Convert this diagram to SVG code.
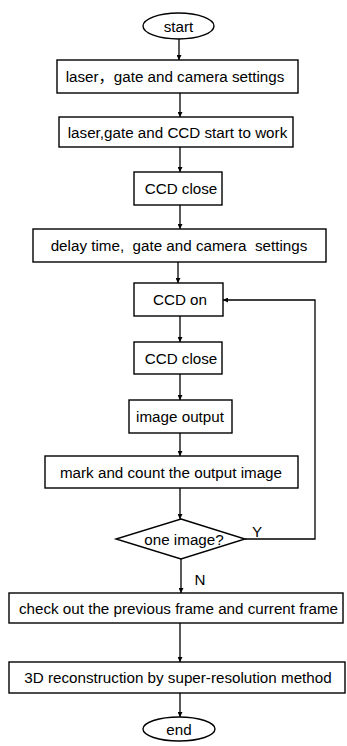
<svg xmlns="http://www.w3.org/2000/svg" width="347" height="746" viewBox="0 0 347 746">
<style>
.n{fill:#fff;stroke:#000;stroke-width:1.4}
.t{font-family:"Liberation Sans",Arial,"Noto Sans CJK SC",sans-serif;font-size:15.2px;fill:#000;text-anchor:middle;white-space:pre}
.c{fill:none;stroke:#000;stroke-width:1.3}
</style>
<defs>
<marker id="ah" viewBox="0 0 10 10" refX="10" refY="5" markerWidth="5" markerHeight="5" markerUnits="userSpaceOnUse" orient="auto">
<path d="M0,0 L10,5 L0,10 z" fill="#000"/>
</marker>
</defs>
<rect width="347" height="746" fill="#fff"/>
<g id="connectors">
<line class="c" x1="179" y1="39" x2="179" y2="60" marker-end="url(#ah)"/>
<line class="c" x1="180" y1="93" x2="180" y2="117" marker-end="url(#ah)"/>
<line class="c" x1="180" y1="147" x2="180" y2="172" marker-end="url(#ah)"/>
<line class="c" x1="180" y1="205" x2="180" y2="229" marker-end="url(#ah)"/>
<line class="c" x1="178" y1="262" x2="178" y2="283" marker-end="url(#ah)"/>
<line class="c" x1="180" y1="316" x2="180" y2="342" marker-end="url(#ah)"/>
<line class="c" x1="180" y1="374" x2="180" y2="400" marker-end="url(#ah)"/>
<line class="c" x1="180" y1="433" x2="180" y2="456" marker-end="url(#ah)"/>
<line class="c" x1="180" y1="488" x2="180" y2="519" marker-end="url(#ah)"/>
<line class="c" x1="181" y1="559" x2="181" y2="593" marker-end="url(#ah)"/>
<polyline class="c" points="245,539 315,539 315,300 223,300" marker-end="url(#ah)"/>
<line class="c" x1="180" y1="623" x2="180" y2="662" marker-end="url(#ah)"/>
<line class="c" x1="180" y1="693" x2="180" y2="717" marker-end="url(#ah)"/>
<text class="t" x="257" y="537">Y</text>
<text class="t" x="200" y="585">N</text>
</g>
<g id="start"><ellipse class="n" cx="178.5" cy="26" rx="35.5" ry="13"/><text class="t" x="178.5" y="31.5">start</text></g>
<g id="settings1"><rect class="n" x="57" y="60" width="241" height="33"/><text class="t" x="175" y="82">laser，gate and camera settings</text></g>
<g id="startwork"><rect class="n" x="59" y="117" width="234" height="30"/><text class="t" x="177.5" y="137.5">laser,gate and CCD start to work</text></g>
<g id="ccdclose1"><rect class="n" x="134" y="172" width="88" height="33"/><text class="t" x="181" y="194">CCD close</text></g>
<g id="settings2"><rect class="n" x="33" y="229" width="293" height="33"/><text class="t" x="179" y="250.5">delay time,  gate and camera  settings</text></g>
<g id="ccdon"><rect class="n" x="134" y="283" width="89" height="33"/><text class="t" x="180" y="305">CCD on</text></g>
<g id="ccdclose2"><rect class="n" x="134" y="342" width="88" height="32"/><text class="t" x="181" y="363.5">CCD close</text></g>
<g id="imageoutput"><rect class="n" x="129" y="400" width="103" height="33"/><text class="t" x="180" y="422">image output</text></g>
<g id="markcount"><rect class="n" x="45" y="456" width="253" height="32"/><text class="t" x="171" y="477.5">mark and count the output image</text></g>
<g id="decision"><polygon class="n" points="181,519 245,539 181,559 116,539"/><text class="t" x="184" y="545">one image?</text></g>
<g id="checkout"><rect class="n" x="9" y="593" width="334" height="30"/><text class="t" x="178.5" y="613.5">check out the previous frame and current frame</text></g>
<g id="reconstruction"><rect class="n" x="9" y="662" width="336" height="31"/><text class="t" x="178" y="682.5">3D reconstruction by super-resolution method</text></g>
<g id="end"><ellipse class="n" cx="179" cy="729" rx="36" ry="12"/><text class="t" x="179" y="734.5">end</text></g>
</svg>
